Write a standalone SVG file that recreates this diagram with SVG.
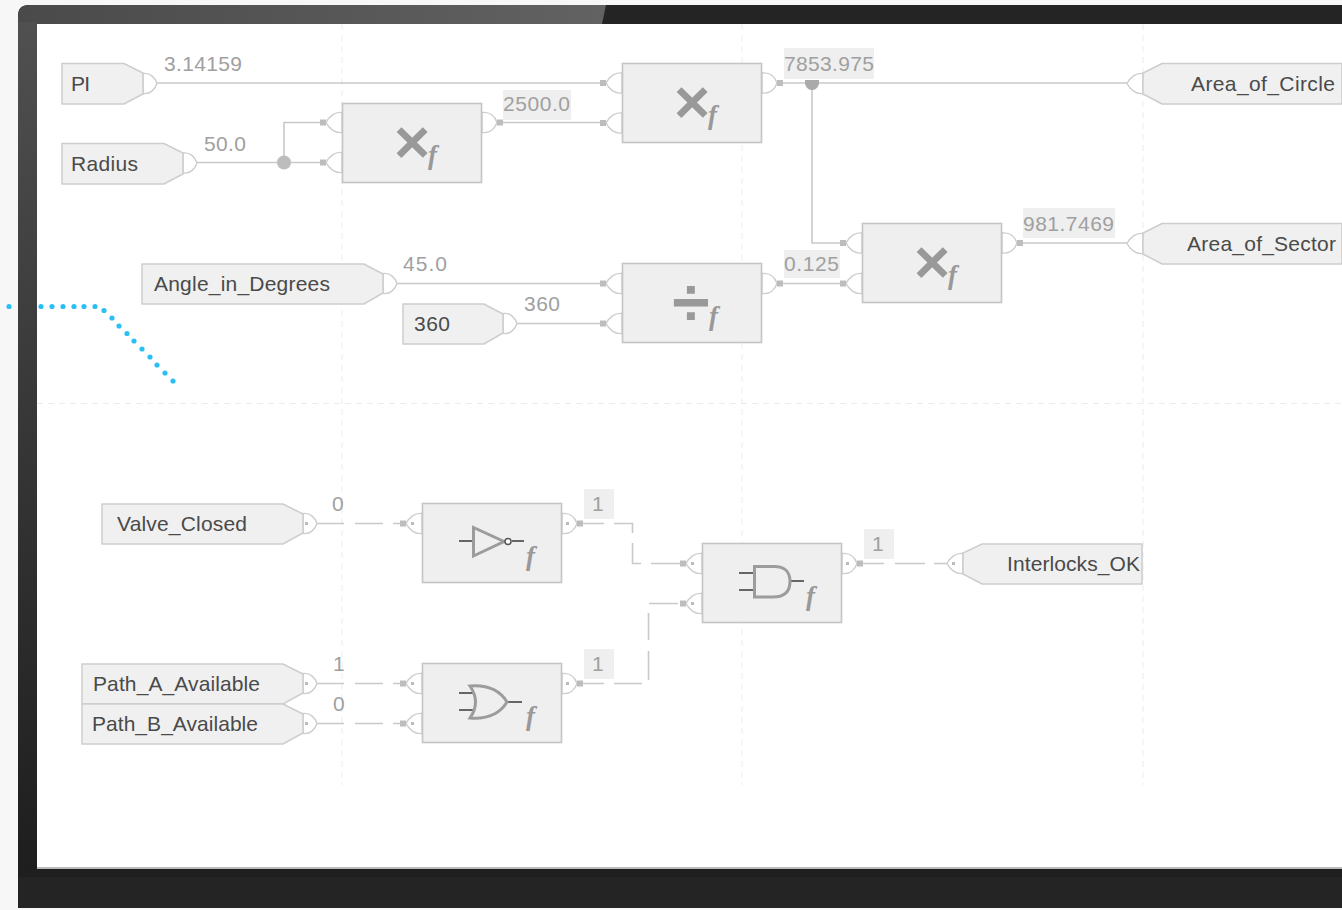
<svg xmlns="http://www.w3.org/2000/svg" width="1342" height="910" viewBox="0 0 1342 910">
<style>
.t{font-family:"Liberation Sans",Arial,sans-serif;font-size:21px;fill:#4a4a4a}
.v{font-family:"Liberation Sans",Arial,sans-serif;font-size:21px;fill:#a0a0a0}
.f{font-family:"Liberation Serif",serif;font-size:27px;font-style:italic;font-weight:bold;fill:#999}
.op{font-family:"Liberation Sans",Arial,sans-serif;font-weight:bold;font-size:62px;fill:#999;text-anchor:middle}
.dv{font-size:68px}
.box{fill:#efefef;stroke:#c4c4c4;stroke-width:1.6}
.tag{fill:#f0f0f0;stroke:#cdcdcd;stroke-width:1.5}
.b{fill:#fff;stroke:#cdcdcd;stroke-width:1.4}
.w{fill:none;stroke:#c9c9c9;stroke-width:1.6}
.vb{fill:#efefef}
.g{fill:none;stroke:#ececec;stroke-width:1;stroke-dasharray:6 5}
.s{fill:#bdbdbd}
.gs{fill:none;stroke:#9c9c9c;stroke-width:3}
.st{fill:none;stroke:#666;stroke-width:1.8}
</style>
<defs>
<linearGradient id="top" x1="0" x2="1" y1="0" y2="0"><stop offset="0" stop-color="#4a4a4a"/><stop offset="1" stop-color="#626262"/></linearGradient>
<linearGradient id="side" x1="0" x2="0" y1="0" y2="1"><stop offset="0" stop-color="#505050"/><stop offset="0.45" stop-color="#383838"/><stop offset="1" stop-color="#1e1e1e"/></linearGradient>
<g id="bo"><path class="b" d="M0,-10C7,-11 12,-6 14,0C12,6 7,11 0,10Z"/></g>
<g id="bin"><path class="b" d="M16,-10C9,-11 3,-6 0,0C3,6 9,11 16,10Z"/></g>
<g id="bi"><use href="#bin"/><rect class="s" x="-6" y="-3" width="6" height="6"/></g>
<g id="bos"><path class="b" d="M0,-10C8,-11 13,-6 15,0C13,6 8,11 0,10Z"/><rect class="s" x="15" y="-3" width="6" height="6"/></g>
<rect id="dot" x="5" y="-1.500" width="3" height="3" fill="#bbb"/>
</defs>

<rect width="1342" height="910" fill="#f7f7f7"/>
<g id="frame">
<path d="M18,908V16Q18,5 29,5H1342V908Z" fill="#242424"/>
<path d="M18,24V16Q18,5 29,5H606L602,24Z" fill="url(#top)"/>
<rect x="18" y="22" width="19" height="848" fill="url(#side)"/>
<rect x="37" y="24" width="1305" height="844" fill="#fff"/>
<rect x="37" y="867" width="1305" height="2" fill="#bbb"/>
<rect x="18" y="869" width="1324" height="8" fill="#1f1f1f"/>
</g>
<g id="blue-dots" fill="#2bc0f4">
<circle cx="9" cy="306.500" r="2.600"/><circle cx="41" cy="306.500" r="2.600"/><circle cx="52" cy="306.500" r="2.600"/><circle cx="63" cy="306.500" r="2.600"/><circle cx="74" cy="306.500" r="2.600"/><circle cx="84" cy="306.500" r="2.600"/><circle cx="95" cy="306.500" r="2.600"/><circle cx="104" cy="310.500" r="2.600"/><circle cx="112" cy="318" r="2.600"/><circle cx="119" cy="326" r="2.600"/><circle cx="127" cy="333.500" r="2.600"/><circle cx="134" cy="341" r="2.600"/><circle cx="142" cy="349" r="2.600"/><circle cx="150" cy="357" r="2.600"/><circle cx="157" cy="365" r="2.600"/><circle cx="165" cy="373" r="2.600"/><circle cx="173" cy="381" r="2.600"/>
</g>
<g id="grid">
<path class="g" d="M342,24V785M742,24V785M1143,24V785M37,403.500H1342"/>
</g>

<g id="connectors">
<path class="w" d="M157,83H600M197,162.500H320M284,162.500V122.500H320M497,122.500H600M783,83H1127M812,83V243H840M397,283.500H600M517,323.500H600M783,283.500H840M1023,243H1127"/>
<circle cx="284" cy="162.500" r="7" fill="#bdbdbd"/>
<path d="M805,80H819V84Q817,90 812,90Q807,90 805,84Z" fill="#aaa"/>
<path class="w" d="M317,523.500H344M355,523.500H383M393,523.500H400M317,683.500H344M355,683.500H383M393,683.500H400M317,723.500H344M355,723.500H383M393,723.500H400"/>
<path class="w" d="M583,523.500H604M614,523.500H632.500V533M632.500,543V563.500H641M651,563.500H680M583,683.500H604M614,683.500H642M648.500,680V651M648.500,640V613M649,603.500H678M863,563.500H884M895,563.500H925M934,563.500H947"/>
</g>

<g id="value-boxes">
<rect class="vb" x="503" y="90" width="68" height="30"/>
<rect class="vb" x="784" y="48" width="90" height="31"/>
<rect class="vb" x="784" y="250" width="56" height="28"/>
<rect class="vb" x="1023" y="208" width="92" height="30"/>
<rect class="vb" x="584" y="489" width="30" height="30"/>
<rect class="vb" x="584" y="649" width="30" height="30"/>
<rect class="vb" x="864" y="529" width="30" height="30"/>
</g>
<g id="values">
<text class="v" x="164" y="71" textLength="78">3.14159</text>
<text class="v" x="204" y="151" textLength="42">50.0</text>
<text class="v" x="503" y="111" textLength="67">2500.0</text>
<text class="v" x="784" y="71" textLength="90">7853.975</text>
<text class="v" x="403" y="271" textLength="44">45.0</text>
<text class="v" x="524" y="311" textLength="36">360</text>
<text class="v" x="784" y="271" textLength="55">0.125</text>
<text class="v" x="1023" y="231" textLength="91">981.7469</text>
<text class="v" x="332" y="511">0</text>
<text class="v" x="592" y="511">1</text>
<text class="v" x="872" y="551">1</text>
<text class="v" x="333" y="671">1</text>
<text class="v" x="333" y="711">0</text>
<text class="v" x="592" y="671">1</text>
</g>

<g id="PI"><use href="#bo" transform="translate(143,83.500)"/><path class="tag" d="M62,63.500H124L143,73V94L124,104H62Z"/><text class="t" x="71" y="91" textLength="19">PI</text></g>
<g id="Radius"><use href="#bo" transform="translate(183,163)"/><path class="tag" d="M62,143.500H164L183,153V174L164,184H62Z"/><text class="t" x="71" y="171" textLength="67">Radius</text></g>
<g id="Angle_in_Degrees"><use href="#bo" transform="translate(383,283.500)"/><path class="tag" d="M142,264H364L383,274V293L364,304H142Z"/><text class="t" x="154" y="291" textLength="176">Angle_in_Degrees</text></g>
<g id="Const360"><use href="#bo" transform="translate(503,323.500)"/><path class="tag" d="M403,304H484L503,314V333L484,344H403Z"/><text class="t" x="414" y="331" textLength="36">360</text></g>
<g id="Valve_Closed"><use href="#bo" transform="translate(303,523.500)"/><use href="#dot" transform="translate(300,523.500)"/><path class="tag" d="M102,504H283L303,514V533L283,544H102Z"/><text class="t" x="117" y="531" textLength="130">Valve_Closed</text></g>
<g id="Path_A_Available"><use href="#bo" transform="translate(303,683.500)"/><use href="#dot" transform="translate(300,683.500)"/><path class="tag" d="M82,664H283L303,674V693L283,704H82Z"/><text class="t" x="93" y="691" textLength="167">Path_A_Available</text></g>
<g id="Path_B_Available"><use href="#bo" transform="translate(303,723.500)"/><use href="#dot" transform="translate(300,723.500)"/><path class="tag" d="M82,704H283L303,714V733L283,744H82Z"/><text class="t" x="92" y="731" textLength="166">Path_B_Available</text></g>

<g id="Area_of_Circle"><use href="#bin" transform="translate(1127,83.500)"/><path class="tag" d="M1342,63.500H1162L1143,73V94L1162,104H1342Z"/><text class="t" x="1191" y="91" textLength="144">Area_of_Circle</text></g>
<g id="Area_of_Sector"><use href="#bin" transform="translate(1127,243.500)"/><path class="tag" d="M1342,223.500H1162L1143,233V254L1162,264H1342Z"/><text class="t" x="1187" y="251" textLength="149">Area_of_Sector</text></g>
<g id="Interlocks_OK"><use href="#bin" transform="translate(947,563.500)"/><use href="#dot" transform="translate(947,563.500)"/><path class="tag" d="M1142,544H982L963,553V574L982,584H1142Z"/><text class="t" x="1007" y="571" textLength="133">Interlocks_OK</text></g>

<g id="mul1"><use href="#bi" transform="translate(326,122.500)"/><use href="#bi" transform="translate(326,162.500)"/><use href="#bos" transform="translate(482,122.500)"/><rect class="box" x="342.500" y="103.500" width="139" height="79"/><text class="op" x="412" y="163">×</text><text class="f" x="428" y="164">f</text></g>
<g id="mul2"><use href="#bi" transform="translate(606,83)"/><use href="#bi" transform="translate(606,123)"/><use href="#bos" transform="translate(762,83)"/><rect class="box" x="622.500" y="63.500" width="139" height="79"/><text class="op" x="692" y="123">×</text><text class="f" x="708" y="124">f</text></g>
<g id="mul3"><use href="#bi" transform="translate(846,243)"/><use href="#bi" transform="translate(846,283.500)"/><use href="#bos" transform="translate(1002,243)"/><rect class="box" x="862.500" y="223.500" width="139" height="79"/><text class="op" x="932" y="283">×</text><text class="f" x="948" y="284">f</text></g>
<g id="div1"><use href="#bi" transform="translate(606,283.500)"/><use href="#bi" transform="translate(606,323.500)"/><use href="#bos" transform="translate(762,283.500)"/><rect class="box" x="622.500" y="263.500" width="139" height="79"/><text class="op dv" x="691" y="326">÷</text><text class="f" x="709" y="325">f</text></g>

<g id="not1"><use href="#bi" transform="translate(406,523.500)"/><use href="#dot" transform="translate(406,523.500)"/><use href="#bos" transform="translate(562,523.500)"/><use href="#dot" transform="translate(561,523.500)"/><rect class="box" x="422.500" y="503.500" width="139" height="79"/>
<path class="st" d="M459,541H473M512,541H524"/><path class="gs" d="M473.500,527.500V556L504,541.500Z"/><circle cx="508" cy="541.500" r="3" fill="#fff" stroke="#555" stroke-width="1.500"/><text class="f" x="526" y="565">f</text></g>
<g id="or1"><use href="#bi" transform="translate(406,683.500)"/><use href="#bi" transform="translate(406,723.500)"/><use href="#dot" transform="translate(406,683.500)"/><use href="#dot" transform="translate(406,723.500)"/><use href="#bos" transform="translate(562,683.500)"/><use href="#dot" transform="translate(561,683.500)"/><rect class="box" x="422.500" y="663.500" width="139" height="79"/>
<path class="st" d="M459,693H475M459,710H475M507,702H522"/><path class="gs" d="M470,686Q496,684 507,702Q496,720 470,718Q481,702 470,686Z"/><text class="f" x="526" y="725">f</text></g>
<g id="and1"><use href="#bi" transform="translate(686,563.500)"/><use href="#bi" transform="translate(686,603.500)"/><use href="#dot" transform="translate(686,563.500)"/><use href="#dot" transform="translate(686,603.500)"/><use href="#bos" transform="translate(842,563.500)"/><use href="#dot" transform="translate(841,563.500)"/><rect class="box" x="702.500" y="543.500" width="139" height="79"/>
<path class="st" d="M739,573H754M739,590H754M791,581H804"/><path class="gs" d="M754.500,566.500H773Q790,566 790,581.500Q790,597 773,597H754.500Z"/><text class="f" x="806" y="605">f</text></g>
</svg>
